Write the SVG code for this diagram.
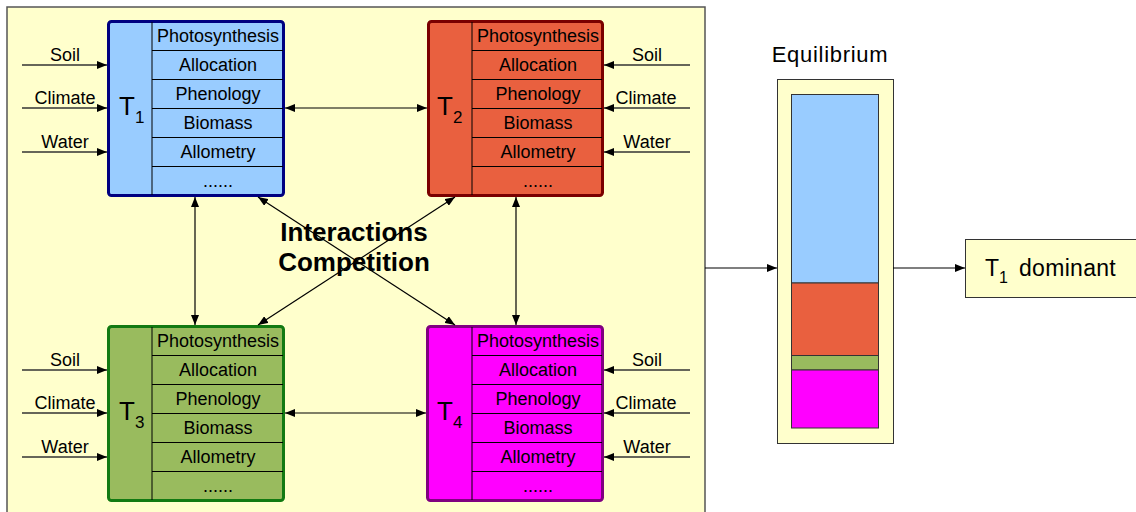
<svg xmlns="http://www.w3.org/2000/svg" width="1136" height="512" viewBox="0 0 1136 512">
<defs>
<marker id="ah" viewBox="0 0 10 8" refX="10" refY="4" markerWidth="10" markerHeight="8" markerUnits="userSpaceOnUse" orient="auto-start-reverse">
<path d="M0,0 L10,4 L0,8 z" fill="#000"/>
</marker>
<style>
text{font-family:"Liberation Sans",Arial,sans-serif;fill:#000}
.row{font-size:18px;text-anchor:middle}
.in{font-size:18px;text-anchor:middle}
.big{font-size:26px}
.sub{font-size:17px}
.ln{stroke:#000;stroke-width:1;fill:none}
.conn{stroke:#000;stroke-width:1.2;fill:none;marker-end:url(#ah)}
.dbl{stroke:#000;stroke-width:1.2;fill:none;marker-start:url(#ah);marker-end:url(#ah)}
.inp{stroke:#333;stroke-width:1.3;fill:none;marker-end:url(#ah)}
</style>
</defs>
<rect x="7" y="7" width="698" height="520" fill="#FFFFCC" stroke="#555" stroke-width="1.5"/>

<g id="T1">
<rect x="108.5" y="21.5" width="175" height="174" rx="3" fill="#99CCFF" stroke="#000080" stroke-width="3"/>
<path class="ln" d="M152,22V195 M152,50.5H283 M152,79.5H283 M152,108.5H283 M152,137.5H283 M152,166.5H283"/>
<text x="119" y="115" class="big">T<tspan class="sub" dy="8">1</tspan></text>
<text class="row" x="218" y="42">Photosynthesis</text>
<text class="row" x="218" y="71">Allocation</text>
<text class="row" x="218" y="100">Phenology</text>
<text class="row" x="218" y="129">Biomass</text>
<text class="row" x="218" y="158">Allometry</text>
<text class="row" x="218" y="187">......</text>
</g>

<g id="T2">
<rect x="428.5" y="21.5" width="174" height="174" rx="3" fill="#E9603F" stroke="#7A0000" stroke-width="3"/>
<path class="ln" d="M472,22V195 M472,50.5H602 M472,79.5H602 M472,108.5H602 M472,137.5H602 M472,166.5H602"/>
<text x="437" y="115" class="big">T<tspan class="sub" dy="8">2</tspan></text>
<text class="row" x="538" y="42">Photosynthesis</text>
<text class="row" x="538" y="71">Allocation</text>
<text class="row" x="538" y="100">Phenology</text>
<text class="row" x="538" y="129">Biomass</text>
<text class="row" x="538" y="158">Allometry</text>
<text class="row" x="538" y="187">......</text>
</g>

<g id="T3">
<rect x="108.5" y="326.5" width="175" height="174" rx="3" fill="#99BB5E" stroke="#127A12" stroke-width="3"/>
<path class="ln" d="M152,327V500 M152,355.5H283 M152,384.5H283 M152,413.5H283 M152,442.5H283 M152,471.5H283"/>
<text x="119" y="420" class="big">T<tspan class="sub" dy="8">3</tspan></text>
<text class="row" x="218" y="347">Photosynthesis</text>
<text class="row" x="218" y="376">Allocation</text>
<text class="row" x="218" y="405">Phenology</text>
<text class="row" x="218" y="434">Biomass</text>
<text class="row" x="218" y="463">Allometry</text>
<text class="row" x="218" y="492">......</text>
</g>

<g id="T4">
<rect x="427.5" y="326.5" width="175" height="174" rx="3" fill="#FF00FF" stroke="#800080" stroke-width="3"/>
<path class="ln" d="M472,327V500 M472,355.5H602 M472,384.5H602 M472,413.5H602 M472,442.5H602 M472,471.5H602"/>
<text x="437" y="420" class="big">T<tspan class="sub" dy="8">4</tspan></text>
<text class="row" x="538" y="347">Photosynthesis</text>
<text class="row" x="538" y="376">Allocation</text>
<text class="row" x="538" y="405">Phenology</text>
<text class="row" x="538" y="434">Biomass</text>
<text class="row" x="538" y="463">Allometry</text>
<text class="row" x="538" y="492">......</text>
</g>

<g id="inputs">
<text class="in" x="65" y="61">Soil</text>
<text class="in" x="65" y="104">Climate</text>
<text class="in" x="65" y="148">Water</text>
<text class="in" x="647" y="61">Soil</text>
<text class="in" x="646" y="104">Climate</text>
<text class="in" x="647" y="148">Water</text>
<text class="in" x="65" y="366">Soil</text>
<text class="in" x="65" y="409">Climate</text>
<text class="in" x="65" y="453">Water</text>
<text class="in" x="647" y="366">Soil</text>
<text class="in" x="646" y="409">Climate</text>
<text class="in" x="647" y="453">Water</text>
</g>

<g id="label-interactions">
<text x="354" y="241" font-size="26" font-weight="bold" text-anchor="middle">Interactions</text>
<text x="354" y="271" font-size="26" font-weight="bold" text-anchor="middle">Competition</text>
</g>

<g id="equilibrium">
<text x="830" y="62" font-size="22" letter-spacing="0.7" text-anchor="middle">Equilibrium</text>
<rect x="777.5" y="79.5" width="116" height="364" fill="#FFFFCC" stroke="#333" stroke-width="1"/>
<rect x="791.5" y="94.5" width="87" height="188.5" fill="#99CCFF" stroke="#333" stroke-width="1"/>
<rect x="791.5" y="283" width="87" height="72.5" fill="#E9603F" stroke="#333" stroke-width="1"/>
<rect x="791.5" y="355.5" width="87" height="14.5" fill="#99BB5E" stroke="#333" stroke-width="1"/>
<rect x="791.5" y="370" width="87" height="58" fill="#FF00FF" stroke="#333" stroke-width="1"/>
</g>

<g id="result">
<rect x="965.5" y="239.5" width="180" height="58" fill="#FFFFCC" stroke="#333" stroke-width="1"/>
<text x="985" y="276" font-size="23">T<tspan font-size="16" dy="7">1</tspan></text>
<text x="1019" y="276" font-size="23" letter-spacing="0.3">dominant</text>
</g>

<g id="connectors">
<path class="inp" d="M22,65H107"/>
<path class="inp" d="M22,108H107"/>
<path class="inp" d="M22,152H107"/>
<path class="inp" d="M690,65H604"/>
<path class="inp" d="M690,108H604"/>
<path class="inp" d="M690,152H604"/>
<path class="inp" d="M22,370H107"/>
<path class="inp" d="M22,413H107"/>
<path class="inp" d="M22,457H107"/>
<path class="inp" d="M690,370H604"/>
<path class="inp" d="M690,413H604"/>
<path class="inp" d="M690,457H604"/>
<path class="dbl" d="M285,108H427"/>
<path class="dbl" d="M285,413H426"/>
<path class="dbl" d="M195,197V325"/>
<path class="dbl" d="M516,197V325"/>
<path class="dbl" d="M258,197L455,325"/>
<path class="dbl" d="M455,197L258,325"/>
<path class="conn" d="M705,268H777"/>
<path class="conn" d="M893,268H965"/>
</g>
</svg>
